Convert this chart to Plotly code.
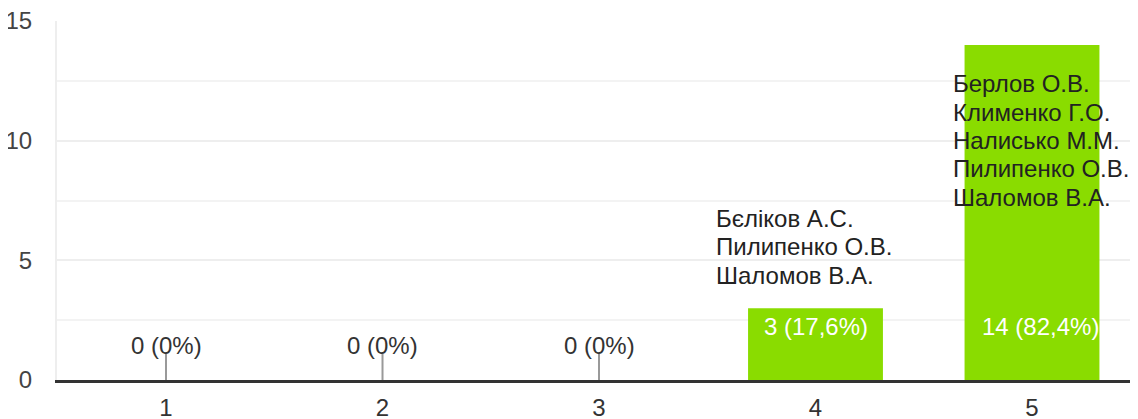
import plotly.graph_objects as go

categories = [1, 2, 3, 4, 5]
counts = [0, 0, 0, 3, 14]
names = {
    4: ["Бєліков А.С.", "Пилипенко О.В.", "Шаломов В.А."],
    5: ["Берлов О.В.", "Клименко Г.О.", "Налисько М.М.", "Пилипенко О.В.", "Шаломов В.А."],
}
y_ticks = [0, 5, 10, 15]

FONT = "Arial, Liberation Sans, sans-serif"
BAR = "#8adc00"
FS = 24
LINE = 28.3
total = sum(counts)

def pct(v):
    p = v / total * 100
    s = f"{p:.1f}".replace(".", ",")
    if s.endswith(",0"):
        s = s[:-2]
    return f"{v} ({s}%)"

fig = go.Figure()
fig.add_trace(go.Bar(x=categories, y=counts, marker=dict(color=BAR, line=dict(width=0)),
                     width=0.623, hoverinfo="skip"))

# stems for zero values
for c, v in zip(categories, counts):
    if v == 0:
        fig.add_trace(go.Scatter(x=[c, c], y=[0, 1.1], mode="lines",
                                 line=dict(color="#999999", width=2), hoverinfo="skip"))

ann = []
for c, v in zip(categories, counts):
    if v == 0:
        ann.append(dict(x=c, y=0, text=pct(v), showarrow=False, yshift=35,
                        font=dict(size=FS, color="#333333", family=FONT)))
    else:
        ann.append(dict(x=c, y=0, text=pct(v), showarrow=False, yshift=54,
                        xshift=8 if v >= 10 else 0,
                        font=dict(size=FS, color="#ffffff", family=FONT)))

for c, v in zip(categories, counts):
    if c not in names:
        continue
    lst = names[c]
    n = len(lst)
    for i, nm in enumerate(lst):
        if c == 4:
            ys = 33 + LINE * (n - 1 - i)
            xs = -102
        else:
            ys = -(39 + LINE * i)
            xs = -81
        ann.append(dict(x=c, y=v, text=nm, showarrow=False, xanchor="left", yanchor="middle",
                        align="left", xshift=xs, yshift=ys,
                        font=dict(size=FS, color="#222222", family=FONT)))

fig.update_layout(
    width=1130, height=411,
    margin=dict(l=49, r=0, t=13, b=39, autoexpand=False),
    plot_bgcolor="#ffffff", paper_bgcolor="#ffffff",
    showlegend=False,
    font=dict(family=FONT, size=FS, color="#444444"),
    annotations=ann,
    xaxis=dict(range=[0.4965, 5.4896], tickvals=categories, ticktext=[str(c) for c in categories],
               showgrid=False, zeroline=False, showline=True, linecolor="#333333", linewidth=3,
               ticks="", ticklabelstandoff=4, tickfont=dict(size=FS, color="#333333"),
               fixedrange=True, automargin=False, ticklabeloverflow="allow"),
    yaxis=dict(range=[0, 15], tickvals=y_ticks, showgrid=True, gridcolor="#eeeeee", gridwidth=2,
               minor=dict(dtick=2.5, showgrid=True, gridcolor="#f3f3f3", gridwidth=2),
               zeroline=False, showline=True, linecolor="#eeeeee", linewidth=2,
               ticks="", ticklabelstandoff=18, tickfont=dict(size=FS, color="#444444"),
               fixedrange=True, automargin=False, ticklabeloverflow="allow"),
)

fig.write_html("out.html")
